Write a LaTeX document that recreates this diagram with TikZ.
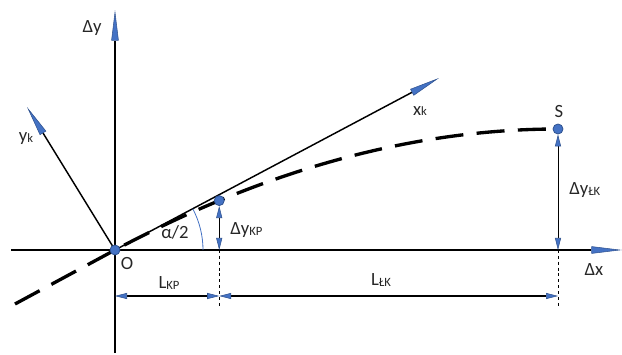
\documentclass[tikz,border=0pt]{standalone}
\usepackage{fontspec}
\setmainfont{Carlito}
\definecolor{axisBlue}{RGB}{68,114,196}
\definecolor{axisEdge}{RGB}{47,82,143}
\definecolor{labelGrey}{RGB}{38,38,38}
\usetikzlibrary{arrows.meta,calc}
\newcommand{\lowtxt}[1]{\raisebox{-0.6pt}{\fontsize{9.5pt}{10pt}\selectfont #1}}

\begin{document}
\begin{tikzpicture}[x=0.75pt,y=0.75pt,
  axis/.style={line width=1.3pt,
               -{Triangle[length=23pt,width=5.5pt,fill=axisBlue,color=axisEdge,line width=0.4pt]}},
  dim/.style={line width=0.75pt,
              >={Triangle[length=9pt,width=4.5pt,fill=axisBlue,color=axisEdge,line width=0.4pt]}, <->},
  helper/.style={line width=0.75pt, dash pattern=on 2.2pt off 2.2pt},
  track/.style={line width=2.5pt, dash pattern=on 21pt off 10pt},
  dot/.style={circle, fill=axisBlue, draw=axisEdge, line width=0.6pt,
              minimum size=7.5pt, inner sep=0pt},
  lbl/.style={text=labelGrey, font=\fontsize{14pt}{16pt}\selectfont, inner sep=0pt}
]
  \useasboundingbox (0,0) rectangle (622,354);

  % axes
  \coordinate (O) at (115,104);
  \coordinate (yBot) at (115,1);
  \coordinate (yTop) at (115,344);
  \coordinate (xLeft) at (11,104);
  \coordinate (xRight) at (622,104);
  \coordinate (xkTip) at (439,276);
  \coordinate (ykTip) at (27,247);
  \draw[axis] (yBot) -- (yTop);
  \draw[axis] (xLeft) -- (xRight);
  \draw[axis, line width=1.1pt] (O) -- (xkTip);
  \draw[axis, line width=1.1pt] (O) -- (ykTip);

  % route
  \coordinate (trackStart) at (15,50);
  \coordinate (bendA) at (267,185);
  \coordinate (bendB) at (415,225);
  \coordinate (S) at (558,225);
  \draw[track] (trackStart) -- (O) .. controls (bendA) and (bendB) .. (S) coordinate[pos=0.23] (kp);

  % angle
  \draw[axisBlue, line width=0.6pt] ($(O)+(66pt,0)$) arc[start angle=0, end angle=28, radius=66pt];

  % dimensions
  \node[dot] (kpDot) at (kp) {};
  \node[dot] (sDot) at (S) {};
  \coordinate (kpFoot) at (kpDot |- O);
  \coordinate (sFoot) at (sDot |- O);
  \coordinate (kpLow) at ($(kpFoot)+(0,-58)$);
  \coordinate (sLow) at ($(sFoot)+(0,-58)$);
  \coordinate (oDim) at ($(O)+(0,-46)$);
  \coordinate (kpDim) at ($(kpFoot)+(0,-46)$);
  \coordinate (sDim) at ($(sFoot)+(0,-46)$);
  \draw[dim] (kpDot) -- (kpFoot);
  \draw[dim] (sDot) -- (sFoot);
  \draw[helper] (kpFoot) -- (kpLow);
  \draw[helper] (sFoot) -- (sLow);
  \draw[dim] (oDim) -- (kpDim);
  \draw[dim] (kpDim) -- (sDim);
  \node[dot] (oDot) at (O) {};

  % labels
  \node[lbl] (dyLbl) at (92,326) {Δy};
  \node[lbl] (dxLbl) at (594,84) {Δx};
  \node[lbl] (ykLbl) at (26,215) {y\lowtxt{k}};
  \node[lbl] (xkLbl) at (420,243) {x\lowtxt{k}};
  \node[lbl] (sLbl) at (559,242) {S};
  \node[lbl] (oLbl) at (127,90) {O};
  \node[lbl] (alphaLbl) at (175,122) {α/2};
  \node[lbl, anchor=west] (dyKpLbl) at (230,124) {Δy\lowtxt{KP}};
  \node[lbl, anchor=west] (dyLkLbl) at (569,164) {Δy\lowtxt{ŁK}};
  \node[lbl] (lKpLbl) at (169,71) {L\lowtxt{KP}};
  \node[lbl] (lLkLbl) at (381,74) {L\lowtxt{ŁK}};
\end{tikzpicture}
\end{document}
